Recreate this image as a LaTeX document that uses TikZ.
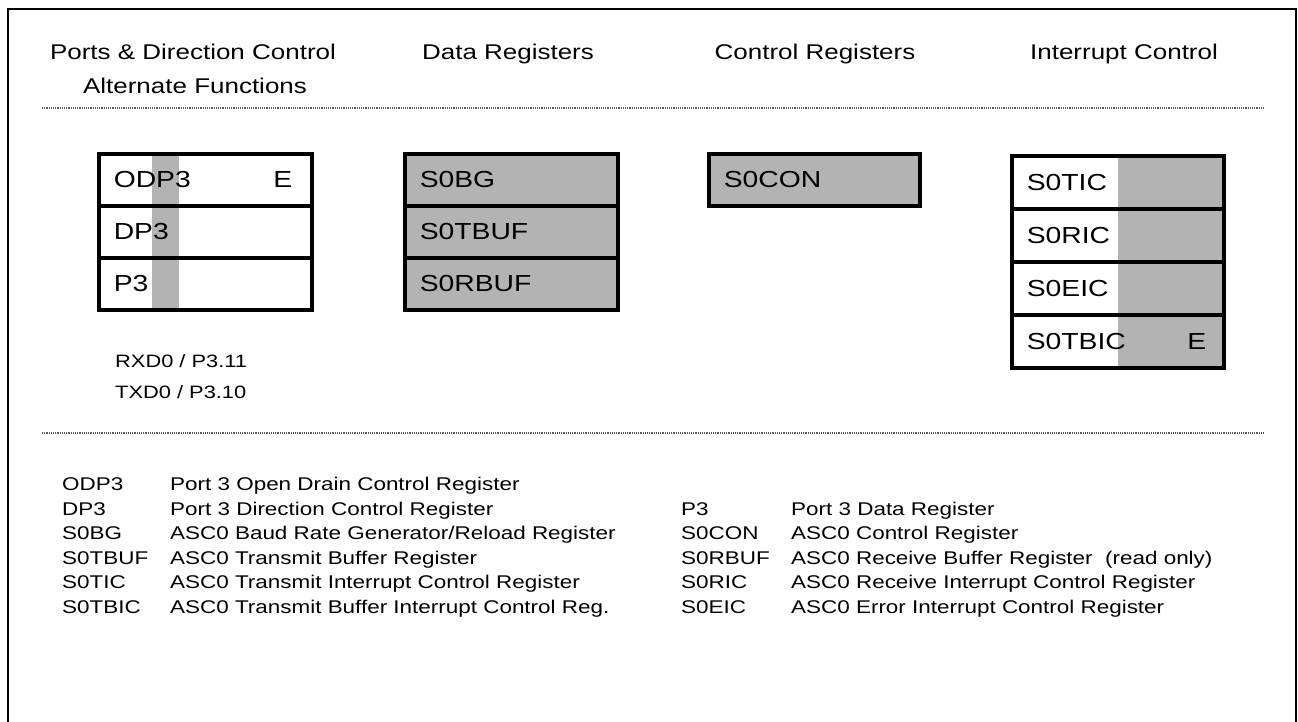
\documentclass[tikz,border=0pt]{standalone}
\usepackage{fontspec}
\setmainfont{Liberation Sans}[FakeStretch=1.22]
\definecolor{regray}{RGB}{179,179,179}
\definecolor{dotgray}{RGB}{90,90,90}
\tikzset{
  hdr/.style={anchor=base, inner sep=0, font=\fontsize{21.3}{25}\selectfont},
  reg/.style={draw, line width=3.5pt, anchor=north west, minimum width=213pt, minimum height=52pt,
              text width=183pt, inner xsep=15pt, inner ysep=0pt, align=left, font=\fontsize{23.2}{28}\selectfont},
  regi/.style={reg, minimum height=53pt, minimum width=212pt, text width=182pt},
  ebit/.style={anchor=east, inner sep=0, font=\fontsize{23.2}{28}\selectfont},
  leg/.style={anchor=base west, inner sep=0, font=\fontsize{18.4}{22}\selectfont},
  pin/.style={anchor=base west, inner sep=0, font=\fontsize{17.9}{22}\selectfont},
  sep/.style={dotgray, line width=1.2pt, densely dotted},
  frame/.style={line width=2pt}
}
\begin{document}
\begin{tikzpicture}[x=1pt,y=-1pt]
\useasboundingbox (0,0) rectangle (1298,721);
% outer frame (bottom edge outside the picture)
\coordinate (fbl) at (8,730);
\coordinate (ftl) at (8,9);
\coordinate (ftr) at (1296,9);
\coordinate (fbr) at (1296,730);
\draw[frame] (fbl) -- (ftl) -- (ftr) -- (fbr);
% headers
\node[hdr] (h1) at (193,59) {Ports \& Direction Control};
\node[hdr] (h1b) at (195,93) {Alternate Functions};
\node[hdr] (h2) at (508,59) {Data Registers};
\node[hdr] (h3) at (815,59) {Control Registers};
\node[hdr] (h4) at (1124,59) {Interrupt Control};
% separators
\coordinate (s1a) at (42,108); \coordinate (s1b) at (1265,108);
\coordinate (s2a) at (42,433); \coordinate (s2b) at (1265,433);
\draw[sep] (s1a) -- (s1b);
\draw[sep] (s2a) -- (s2b);
% partial gray fills
\fill[regray] (152,152) rectangle (179,308);
\fill[regray] (1118,154) rectangle (1222,366);
% port registers
\node[reg] (odp3) at (97,152) {ODP3};
\node[reg] (dp3) at (97,204) {DP3};
\node[reg] (p3) at (97,256) {P3};
\node[ebit] (odpe) at ([xshift=-21pt]odp3.east) {E};
% data registers
\node[reg, fill=regray] (s0bg) at (403,152) {S0BG};
\node[reg, fill=regray] (s0tbuf) at (403,204) {S0TBUF};
\node[reg, fill=regray] (s0rbuf) at (403,256) {S0RBUF};
% control register
\node[reg, fill=regray, minimum width=211pt, text width=181pt] (s0con) at (707,152) {S0CON};
% interrupt control
\node[regi] (s0tic) at (1010,154) {S0TIC};
\node[regi] (s0ric) at (1010,207) {S0RIC};
\node[regi] (s0eic) at (1010,260) {S0EIC};
\node[regi] (s0tbic) at (1010,313) {S0TBIC};
\node[ebit] (tbice) at ([xshift=-19pt]s0tbic.east) {E};
% pins
\node[pin] (rxd) at (115,367) {RXD0 / P3.11};
\node[pin] (txd) at (115,398) {TXD0 / P3.10};
% legend
\foreach \i/\ab/\txt in {0/ODP3/{Port 3 Open Drain Control Register},
  1/DP3/{Port 3 Direction Control Register},
  2/S0BG/{ASC0 Baud Rate Generator/Reload Register},
  3/S0TBUF/{ASC0 Transmit Buffer Register},
  4/S0TIC/{ASC0 Transmit Interrupt Control Register},
  5/S0TBIC/{ASC0 Transmit Buffer Interrupt Control Reg.}}{
  \node[leg] (la\i) at (62,490.5+24.6*\i) {\ab};
  \node[leg] (lt\i) at (170,490.5+24.6*\i) {\txt};
}
\foreach \i/\ab/\txt in {1/P3/{Port 3 Data Register},
  2/S0CON/{ASC0 Control Register},
  3/S0RBUF/{ASC0 Receive Buffer Register\ \ (read only)},
  4/S0RIC/{ASC0 Receive Interrupt Control Register},
  5/S0EIC/{ASC0 Error Interrupt Control Register}}{
  \node[leg] (ra\i) at (681,490.5+24.6*\i) {\ab};
  \node[leg] (rt\i) at (791,490.5+24.6*\i) {\txt};
}
\end{tikzpicture}
\end{document}
